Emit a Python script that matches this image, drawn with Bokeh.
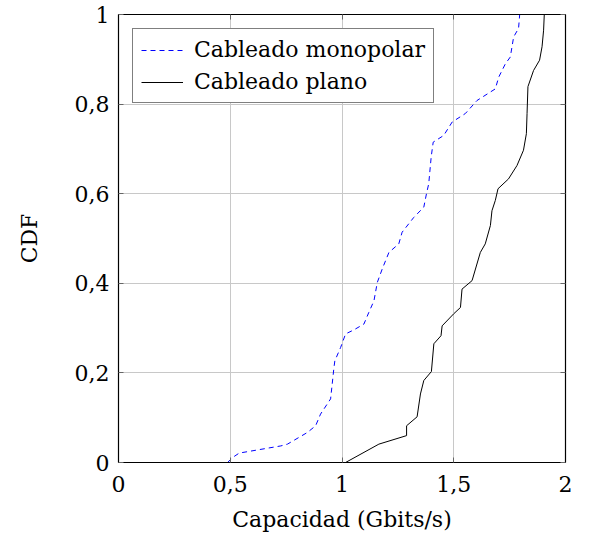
from bokeh.plotting import figure
from bokeh.models import (Range1d, Legend, LegendItem, CustomJSTickFormatter,
                          FixedTicker, LinearAxis)
from bokeh.embed import file_html
from bokeh.resources import INLINE

# Data
mono_x = [0.488, 0.510, 0.540, 0.726, 0.756, 0.845, 0.882, 0.904, 0.949, 0.964,
          0.968, 0.994, 1.016, 1.053, 1.098, 1.120, 1.143, 1.158, 1.180, 1.210,
          1.254, 1.269, 1.321, 1.366, 1.378, 1.388, 1.399, 1.408, 1.455, 1.493,
          1.552, 1.604, 1.686, 1.701, 1.731, 1.753, 1.768, 1.790, 1.795]
mono_y = [0.0, 0.011, 0.021, 0.037, 0.041, 0.067, 0.082, 0.108, 0.142, 0.212,
          0.227, 0.257, 0.287, 0.296, 0.309, 0.335, 0.361, 0.402, 0.432, 0.469,
          0.488, 0.514, 0.547, 0.570, 0.600, 0.622, 0.682, 0.715, 0.730, 0.760,
          0.779, 0.808, 0.834, 0.860, 0.890, 0.905, 0.950, 0.969, 1.0]

plano_x = [1.016, 1.165, 1.289, 1.289, 1.336, 1.351, 1.366, 1.400, 1.411, 1.443,
           1.448, 1.500, 1.530, 1.537, 1.582, 1.619, 1.641, 1.664, 1.671, 1.686,
           1.698, 1.745, 1.783, 1.812, 1.825, 1.828, 1.832, 1.857, 1.884, 1.895,
           1.902, 1.905]
plano_y = [0.0, 0.041, 0.060, 0.082, 0.102, 0.153, 0.183, 0.203, 0.265, 0.283,
           0.305, 0.332, 0.346, 0.387, 0.406, 0.469, 0.488, 0.529, 0.562, 0.585,
           0.611, 0.633, 0.663, 0.697, 0.734, 0.779, 0.839, 0.875, 0.898, 0.928,
           0.965, 1.0]

x_ticks = [0, 0.5, 1, 1.5, 2]
y_ticks = [0, 0.2, 0.4, 0.6, 0.8, 1]
x_label = "Capacidad (Gbits/s)"
y_label = "CDF"
labels = ["Cableado monopolar", "Cableado plano"]

FONT = "DejaVu Serif"

p = figure(frame_width=447, frame_height=448, output_backend="svg",
           toolbar_location=None, x_range=Range1d(0, 2), y_range=Range1d(0, 1),
           min_border_left=118, min_border_right=20, min_border_top=14,
           min_border_bottom=74)
p.background_fill_color = "white"
p.border_fill_color = "white"
p.outline_line_color = "black"
p.outline_line_width = 1.2

fmt = CustomJSTickFormatter(code="""
const r = Math.round(tick);
const s = (Math.abs(tick - r) < 1e-9) ? r.toString() : tick.toFixed(1);
return s.replace('.', ',');
""")
blank = CustomJSTickFormatter(code="return '';")

for ax, ticks in ((p.xaxis[0], x_ticks), (p.yaxis[0], y_ticks)):
    ax.ticker = FixedTicker(ticks=ticks)
    ax.formatter = fmt
    ax.major_label_text_font = FONT
    ax.major_label_text_font_size = "22px"
    ax.major_label_text_color = "black"
    ax.axis_label_text_font = FONT
    ax.axis_label_text_font_size = "22px"
    ax.axis_label_text_font_style = "normal"
    ax.axis_label_text_color = "black"
    ax.axis_line_color = "black"
    ax.major_tick_in = 5
    ax.major_tick_out = 0
    ax.major_tick_line_color = "#666666"
    ax.minor_tick_line_color = None

p.xaxis[0].axis_label = x_label
p.yaxis[0].axis_label = y_label
p.xaxis[0].major_label_standoff = 13
p.xaxis[0].axis_label_standoff = 12
p.yaxis[0].major_label_standoff = 9
p.yaxis[0].axis_label_standoff = 30

# mirrored tick marks on right/top
for loc, ticks in (("right", y_ticks), ("above", x_ticks)):
    a = LinearAxis(ticker=FixedTicker(ticks=ticks), formatter=blank,
                   major_tick_in=5, major_tick_out=0,
                   major_tick_line_color="#666666", minor_tick_line_color=None,
                   axis_line_color="black", major_label_standoff=0)
    p.add_layout(a, loc)

p.xgrid.ticker = FixedTicker(ticks=x_ticks)
p.ygrid.ticker = FixedTicker(ticks=y_ticks)
p.grid.grid_line_color = "#c8c8c8"
p.grid.grid_line_width = 1

r1 = p.line(mono_x, mono_y, line_color="#0000ff", line_width=1,
            line_dash="5 4")
r2 = p.line(plano_x, plano_y, line_color="black", line_width=1)

legend = Legend(items=[LegendItem(label=labels[0], renderers=[r1]),
                       LegendItem(label=labels[1], renderers=[r2])],
                location="top_left")
legend.label_text_font = FONT
legend.label_text_font_size = "22px"
legend.label_text_color = "black"
legend.border_line_color = "black"
legend.border_line_width = 1
legend.background_fill_alpha = 1
legend.glyph_width = 42
legend.label_standoff = 11
legend.padding = 8
legend.spacing = 7
legend.margin = 14
p.add_layout(legend)

open("out.html", "w").write(file_html(p, INLINE))
